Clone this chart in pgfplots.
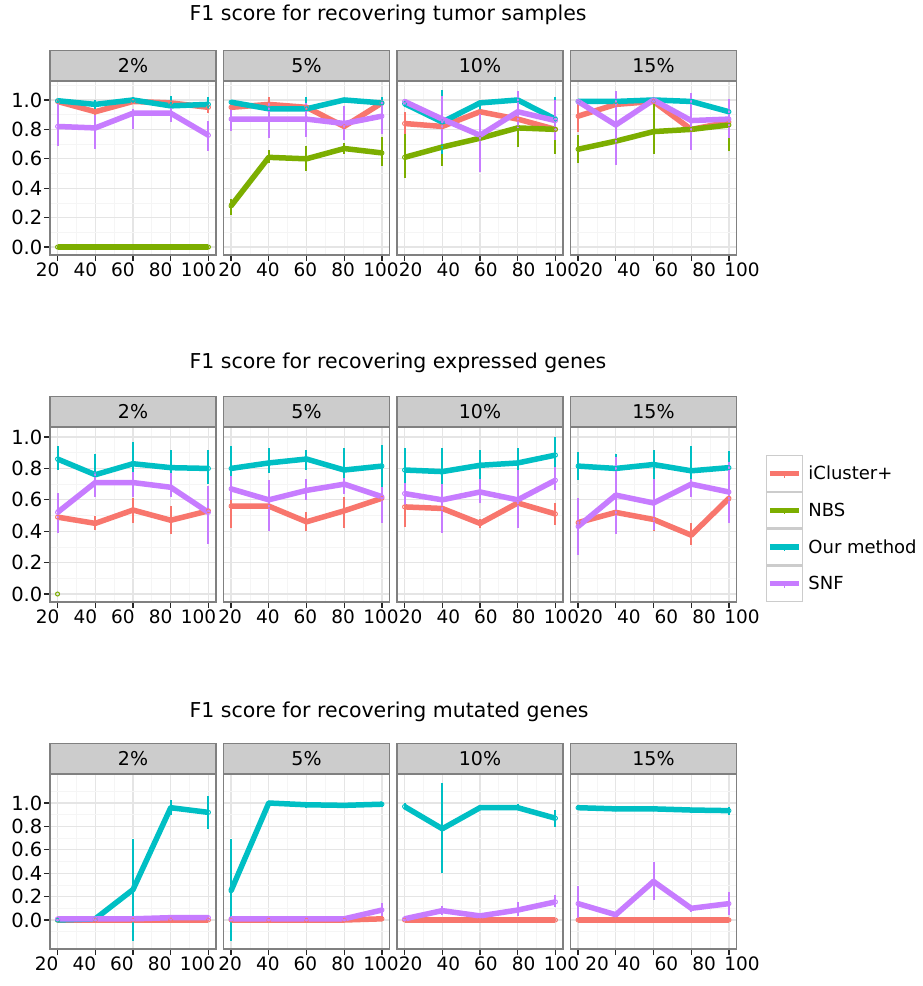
\documentclass[border=0pt]{standalone}
\usepackage{pgfplots}
\pgfplotsset{compat=1.18}
\usepackage{pgfplotstable}
\usepackage{fontspec}
\setmainfont{DejaVu Sans}

\definecolor{icol}{HTML}{F8766D}
\definecolor{ncol}{HTML}{7CAE00}
\definecolor{ocol}{HTML}{00BFC4}
\definecolor{scol}{HTML}{C77CFF}

% columns: value, lower and upper end of the error bar for each method
% ic = iCluster+, nb = NBS, ou = Our method, sn = SNF
% ---------------- tumor samples ----------------
\pgfplotstableread{
x   ic    icl   ich   nb    nbl   nbh   ou    oul   ouh   sn    snl   snh
20  0.99  0.97  1.01  0.00  -0.01 0.01  0.995 0.98  1.01  0.82  0.69  0.98
40  0.92  0.89  0.95  0.00  -0.01 0.01  0.97  0.94  1.00  0.81  0.67  0.90
60  0.99  0.97  1.02  0.00  -0.01 0.01  1.00  0.98  1.02  0.91  0.80  0.94
80  0.98  0.95  1.00  0.00  -0.01 0.01  0.96  0.93  1.03  0.91  0.85  0.95
100 0.95  0.91  0.99  0.00  -0.01 0.01  0.97  0.94  1.02  0.76  0.65  0.86
}\tumA
\pgfplotstableread{
x   ic    icl   ich   nb    nbl   nbh   ou    oul   ouh   sn    snl   snh
20  0.95  0.93  0.97  0.28  0.22  0.33  0.985 0.97  1.00  0.87  0.79  0.94
40  0.97  0.93  1.02  0.61  0.57  0.66  0.94  0.92  0.97  0.87  0.74  0.98
60  0.95  0.92  0.98  0.60  0.52  0.69  0.94  0.85  1.02  0.87  0.75  0.98
80  0.82  0.79  0.85  0.67  0.63  0.71  1.00  0.98  1.01  0.84  0.73  0.96
100 0.98  0.95  1.00  0.64  0.55  0.75  0.98  0.92  1.02  0.89  0.77  1.00
}\tumB
\pgfplotstableread{
x   ic    icl   ich   nb    nbl   nbh   ou    oul   ouh   sn    snl   snh
20  0.84  0.76  0.92  0.61  0.47  0.77  0.975 0.95  1.00  0.99  0.97  1.01
40  0.82  0.78  0.86  0.68  0.55  0.73  0.85  0.63  1.07  0.87  0.70  1.03
60  0.92  0.88  0.96  0.74  0.71  0.77  0.98  0.93  1.00  0.76  0.51  0.91
80  0.87  0.83  0.91  0.81  0.68  0.88  1.00  0.97  1.02  0.92  0.81  1.06
100 0.80  0.76  0.84  0.80  0.63  0.88  0.87  0.73  1.02  0.86  0.73  1.00
}\tumC
\pgfplotstableread{
x   ic    icl   ich   nb    nbl   nbh   ou    oul   ouh   sn    snl   snh
20  0.89  0.78  1.00  0.665 0.57  0.76  0.99  0.97  1.01  0.99  0.97  1.01
40  0.97  0.94  1.00  0.72  0.56  0.88  0.99  0.97  1.01  0.83  0.56  1.06
60  0.99  0.96  1.01  0.785 0.63  0.97  1.00  0.98  1.01  1.00  0.98  1.01
80  0.80  0.76  0.84  0.80  0.66  0.85  0.99  0.97  1.01  0.86  0.66  1.05
100 0.85  0.81  0.89  0.83  0.65  0.86  0.92  0.85  1.00  0.87  0.74  1.01
}\tumD
% ---------------- expressed genes ----------------
\pgfplotstableread{
x   ic    icl   ich   ou    oul   ouh   sn    snl   snh
20  0.49  0.39  0.60  0.86  0.79  0.94  0.52  0.39  0.645
40  0.45  0.41  0.50  0.76  0.62  0.89  0.71  0.62  0.78
60  0.535 0.45  0.61  0.83  0.68  0.97  0.71  0.62  0.78
80  0.47  0.38  0.56  0.805 0.71  0.92  0.68  0.62  0.77
100 0.53  0.50  0.56  0.80  0.70  0.92  0.52  0.32  0.69
}\expA
\pgfplotstableread{
x   ic    icl   ich   ou    oul   ouh   sn    snl   snh
20  0.56  0.42  0.66  0.80  0.66  0.94  0.67  0.60  0.75
40  0.56  0.50  0.62  0.835 0.77  0.93  0.60  0.40  0.725
60  0.46  0.40  0.52  0.86  0.79  0.92  0.66  0.60  0.73
80  0.53  0.42  0.62  0.79  0.64  0.93  0.70  0.64  0.74
100 0.61  0.59  0.63  0.815 0.66  0.95  0.62  0.45  0.68
}\expB
\pgfplotstableread{
x   ic    icl   ich   ou    oul   ouh   sn    snl   snh
20  0.555 0.43  0.66  0.79  0.66  0.93  0.64  0.57  0.71
40  0.545 0.50  0.60  0.78  0.64  0.93  0.60  0.39  0.70
60  0.45  0.42  0.48  0.82  0.725 0.915 0.65  0.58  0.735
80  0.58  0.53  0.65  0.835 0.735 0.93  0.60  0.42  0.79
100 0.51  0.44  0.58  0.885 0.76  1.00  0.725 0.66  0.81
}\expC
\pgfplotstableread{
x   ic    icl   ich   ou    oul   ouh   sn    snl   snh
20  0.455 0.43  0.47  0.815 0.725 0.905 0.43  0.25  0.61
40  0.52  0.50  0.55  0.80  0.77  0.89  0.63  0.38  0.87
60  0.475 0.40  0.555 0.825 0.73  0.915 0.58  0.41  0.73
80  0.375 0.31  0.45  0.785 0.65  0.94  0.70  0.62  0.735
100 0.61  0.58  0.64  0.805 0.745 0.91  0.65  0.45  0.84
}\expD
% ---------------- mutated genes ----------------
\pgfplotstableread{
x   ic    icl   ich   ou    oul   ouh   sn    snl   snh
20  0.00  -0.01 0.01  0.00  -0.01 0.01  0.01  0.00  0.02
40  0.00  -0.01 0.01  0.01  0.00  0.02  0.01  0.00  0.02
60  0.00  -0.01 0.01  0.26  -0.18 0.69  0.01  0.00  0.02
80  0.00  -0.01 0.01  0.96  0.90  1.03  0.02  0.01  0.03
100 0.00  -0.01 0.01  0.92  0.78  1.06  0.02  0.01  0.03
}\mutA
\pgfplotstableread{
x   ic    icl   ich   ou    oul   ouh   sn    snl   snh
20  0.00  -0.01 0.01  0.25  -0.18 0.69  0.01  0.00  0.02
40  0.00  -0.01 0.01  1.00  0.99  1.01  0.01  0.00  0.02
60  0.00  -0.01 0.01  0.985 0.96  1.01  0.01  0.00  0.02
80  0.00  -0.01 0.01  0.98  0.96  1.00  0.01  0.00  0.02
100 0.01  -0.01 0.03  0.99  0.97  1.01  0.085 0.03  0.145
}\mutB
\pgfplotstableread{
x   ic    icl   ich   ou    oul   ouh   sn    snl   snh
20  0.00  -0.01 0.01  0.97  0.95  1.00  0.01  0.00  0.02
40  0.00  -0.01 0.01  0.78  0.40  1.17  0.08  0.045 0.12
60  0.00  -0.01 0.01  0.96  0.94  0.98  0.035 0.02  0.05
80  0.00  -0.01 0.01  0.96  0.94  0.99  0.085 0.03  0.15
100 0.00  -0.01 0.01  0.87  0.795 0.94  0.155 0.11  0.21
}\mutC
\pgfplotstableread{
x   ic    icl   ich   ou    oul   ouh   sn    snl   snh
20  0.00  -0.01 0.01  0.96  0.94  0.98  0.14  0.02  0.29
40  0.00  -0.01 0.01  0.95  0.93  0.97  0.045 0.03  0.06
60  0.00  -0.01 0.01  0.95  0.93  0.97  0.33  0.17  0.50
80  0.00  -0.01 0.01  0.94  0.92  0.96  0.10  0.07  0.13
100 0.00  -0.01 0.01  0.935 0.90  0.97  0.14  0.04  0.24
}\mutD

% one method in one facet: thick line, open points, vertical error bars
\newcommand{\series}[3]{%
  \addplot[forget plot, color=#3, line width=5.5pt, line join=round,
    mark=o, mark size=2pt, mark options={line width=1pt},
    error bars/.cd, y dir=both, y explicit, error mark=none,
    error bar style={line width=2pt, color=#3}]
  table[x=x, y=#2,
        y error plus expr=\thisrow{#2h}-\thisrow{#2},
        y error minus expr=\thisrow{#2}-\thisrow{#2l}] {#1};}

\pgfplotsset{
  facet/.style={
    scale only axis, width=166pt, anchor=north west,
    xmin=16, xmax=104,
    xtick={20,40,60,80,100}, minor xtick={30,50,70,90},
    ytick={0,0.2,0.4,0.6,0.8,1.0},
    minor ytick={-0.1,0.1,0.3,0.5,0.7,0.9,1.1},
    grid=both,
    major grid style={black!10, line width=1.3pt},
    minor grid style={black!4, line width=0.8pt},
    axis line style={black!50, line width=1.2pt},
    tick align=outside, tick pos=left,
    major tick length=6pt, minor tick length=0pt,
    tick style={black!85, line width=1.3pt},
    minor tick style={draw=none},
    /pgf/number format/assume math mode=true,
    tick label style={black},
    yticklabel style={font=\fontsize{19.5}{20}\selectfont, inner sep=1.5pt,
      /pgf/number format/.cd, fixed, fixed zerofill, precision=1},
    xticklabel style={font=\fontsize{18.5}{19}\selectfont, inner sep=2pt},
    every axis title/.style={at={(0.5,1)}, anchor=south,
      fill=black!20, draw=black!50, line width=1.2pt,
      minimum width=166pt, minimum height=30pt, inner sep=0pt,
      font=\fontsize{19}{20}\selectfont},
  },
  inner/.style={yticklabels={}, ytick style={draw=none}},
  rowA/.style={facet, height=174pt, ymin=-0.054, ymax=1.129},
  rowB/.style={facet, height=175pt, ymin=-0.051, ymax=1.064},
  rowC/.style={facet, height=175pt, ymin=-0.248, ymax=1.248},
}
\tikzset{ptitle/.style={anchor=base west, font=\fontsize{20.5}{22}\selectfont}}

\begin{document}
\begin{tikzpicture}
\useasboundingbox (0pt,0pt) rectangle (922pt,-986pt);
\fill[white] (0pt,0pt) rectangle (922pt,-986pt);

% ================= row 1 =================
\node[ptitle] at (186pt,-20.7pt) {F1 score for recovering tumor samples};
\begin{axis}[rowA, at={(50pt,-81pt)}, title={2\%}, xticklabel style={xshift=-10pt}]
  \series{\tumA}{ic}{icol}\series{\tumA}{nb}{ncol}\series{\tumA}{ou}{ocol}\series{\tumA}{sn}{scol}
\end{axis}
\begin{axis}[rowA, inner, at={(223.5pt,-81pt)}, title={5\%}, xticklabel style={xshift=-1pt}]
  \series{\tumB}{ic}{icol}\series{\tumB}{nb}{ncol}\series{\tumB}{ou}{ocol}\series{\tumB}{sn}{scol}
\end{axis}
\begin{axis}[rowA, inner, at={(397pt,-81pt)}, title={10\%}, xticklabel style={xshift=6pt}]
  \series{\tumC}{ic}{icol}\series{\tumC}{nb}{ncol}\series{\tumC}{ou}{ocol}\series{\tumC}{sn}{scol}
\end{axis}
\begin{axis}[rowA, inner, at={(570.5pt,-81pt)}, title={15\%}, xticklabel style={xshift=13pt}]
  \series{\tumD}{ic}{icol}\series{\tumD}{nb}{ncol}\series{\tumD}{ou}{ocol}\series{\tumD}{sn}{scol}
\end{axis}

% ================= row 2 =================
\node[ptitle] at (186pt,-368.3pt) {F1 score for recovering expressed genes};
\begin{axis}[rowB, at={(50pt,-427pt)}, title={2\%}, xticklabel style={xshift=-10pt}]
  \series{\expA}{ic}{icol}
  \addplot[forget plot, only marks, color=ncol, mark=o, mark size=2pt, mark options={line width=1pt}]
    coordinates {(20,0)};
  \series{\expA}{ou}{ocol}\series{\expA}{sn}{scol}
\end{axis}
\begin{axis}[rowB, inner, at={(223.5pt,-427pt)}, title={5\%}, xticklabel style={xshift=-1pt}]
  \series{\expB}{ic}{icol}\series{\expB}{ou}{ocol}\series{\expB}{sn}{scol}
\end{axis}
\begin{axis}[rowB, inner, at={(397pt,-427pt)}, title={10\%}, xticklabel style={xshift=6pt}]
  \series{\expC}{ic}{icol}\series{\expC}{ou}{ocol}\series{\expC}{sn}{scol}
\end{axis}
\begin{axis}[rowB, inner, at={(570.5pt,-427pt)}, title={15\%}, xticklabel style={xshift=13pt},
    legend image code/.code={
      \draw[black!20, fill=white, line width=1.2pt] (0pt,-17.75pt) rectangle (35.5pt,17.75pt);
      \draw[line width=5.5pt] (3pt,0pt) -- (32.5pt,0pt);
      \draw[line width=1.5pt] (17.75pt,0pt) -- (17.75pt,-4pt);
    },
    legend cell align=left,
    legend style={at={(1.178,0.84)}, anchor=north west, draw=none, fill=none,
      inner sep=0pt, row sep=0pt, font=\fontsize{18}{20}\selectfont,
      nodes={inner sep=0pt, outer sep=0pt},
      /tikz/every odd column/.append style={column sep=5.5pt}}]
  \series{\expD}{ic}{icol}\series{\expD}{ou}{ocol}\series{\expD}{sn}{scol}
  \addlegendimage{color=icol}\addlegendentry{iCluster+}
  \addlegendimage{color=ncol}\addlegendentry{NBS}
  \addlegendimage{color=ocol}\addlegendentry{Our method}
  \addlegendimage{color=scol}\addlegendentry{SNF}
\end{axis}

% ================= row 3 =================
\node[ptitle] at (186pt,-717.7pt) {F1 score for recovering mutated genes};
\begin{axis}[rowC, at={(50pt,-774pt)}, title={2\%}, xticklabel style={xshift=-11pt}]
  \series{\mutA}{ic}{icol}
  \addplot[forget plot, only marks, color=ncol, mark=o, mark size=2pt, mark options={line width=1pt}]
    coordinates {(20,0)};
  \series{\mutA}{ou}{ocol}\series{\mutA}{sn}{scol}
\end{axis}
\begin{axis}[rowC, inner, at={(223.5pt,-774pt)}, title={5\%}, xticklabel style={xshift=-1pt}]
  \series{\mutB}{ic}{icol}\series{\mutB}{ou}{ocol}\series{\mutB}{sn}{scol}
\end{axis}
\begin{axis}[rowC, inner, at={(397pt,-774pt)}, title={10\%}, xticklabel style={xshift=6pt}]
  \series{\mutC}{ic}{icol}\series{\mutC}{ou}{ocol}\series{\mutC}{sn}{scol}
\end{axis}
\begin{axis}[rowC, inner, at={(570.5pt,-774pt)}, title={15\%}, xticklabel style={xshift=13pt},
    xticklabels={\hspace{12pt}20,40,60,80,100}]
  \series{\mutD}{ic}{icol}\series{\mutD}{ou}{ocol}\series{\mutD}{sn}{scol}
\end{axis}
\end{tikzpicture}
\end{document}
